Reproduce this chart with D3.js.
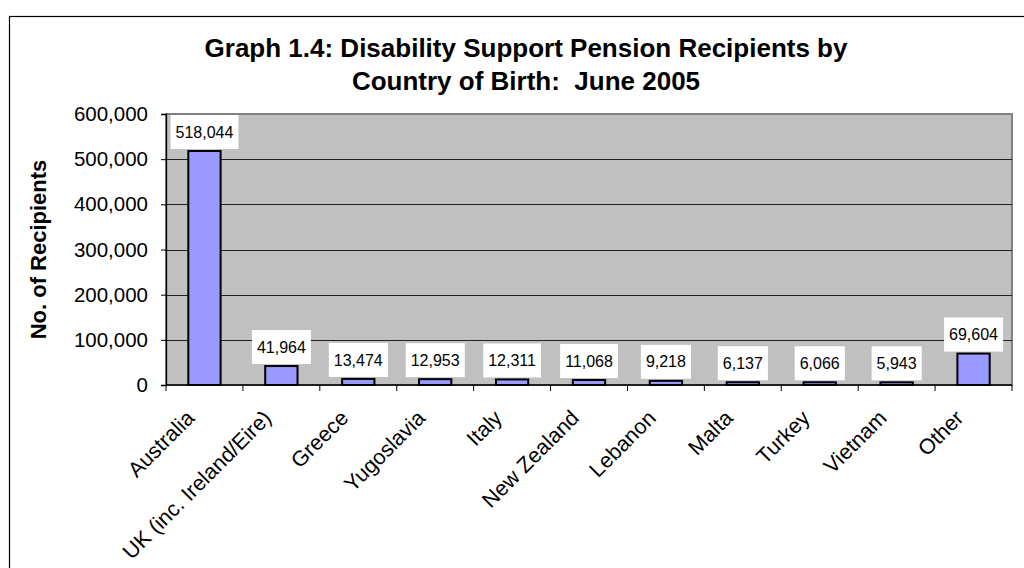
<!DOCTYPE html>
<html>
<head>
<meta charset="utf-8">
<script src="https://cdn.jsdelivr.net/npm/d3@7"></script>
<style>
  body { margin: 0; background: #fff; }
  text { font-family: "Liberation Sans", Arial, sans-serif; }
</style>
</head>
<body>
<svg id="chart"></svg>
<script>
var countries = ["Australia", "UK (inc. Ireland/Eire)", "Greece", "Yugoslavia", "Italy",
                 "New Zealand", "Lebanon", "Malta", "Turkey", "Vietnam", "Other"];
var recipients = [518044, 41964, 13474, 12953, 12311, 11068, 9218, 6137, 6066, 5943, 69604];
var yTicks = [0, 100000, 200000, 300000, 400000, 500000, 600000];
var titleLines = ["Graph 1.4: Disability Support Pension Recipients by", "Country of Birth:  June 2005"];

var data = countries.map(function(c, i){ return {name: c, value: recipients[i]}; });

var width = 1024, height = 568;
var svg = d3.select("#chart")
            .attr("width", width)
            .attr("height", height);

var margins = {top: 114, bottom: 183, left: 166, right: 12};

// outer chart border (runs off the picture on right/bottom)
svg.append("rect")
   .attr("x", 9.5).attr("y", 16.5)
   .attr("width", 1100).attr("height", 700)
   .attr("fill", "none")
   .attr("stroke", "#000")
   .attr("stroke-width", 1.2);

var xScale = d3.scaleBand()
               .domain(countries)
               .range([margins.left, width - margins.right])
               .paddingInner(0.58)
               .paddingOuter(0.29);

var yScale = d3.scaleLinear()
               .domain([0, 600000])
               .range([height - margins.bottom, margins.top]);

var x0 = margins.left, x1 = width - margins.right;
var y0 = yScale(0), y1 = yScale(600000);

// plot area
svg.append("rect")
   .attr("x", x0).attr("y", y1)
   .attr("width", x1 - x0).attr("height", y0 - y1)
   .attr("fill", "#C0C0C0")
   .attr("stroke", "#808080")
   .attr("stroke-width", 2);

// gridlines
svg.append("g")
   .selectAll("line")
   .data(yTicks.filter(function(d){ return d > 0 && d < 600000; }))
   .enter()
   .append("line")
   .attr("x1", x0).attr("x2", x1)
   .attr("y1", function(d){ return Math.round(yScale(d)) + 0.5; })
   .attr("y2", function(d){ return Math.round(yScale(d)) + 0.5; })
   .attr("stroke", "#222")
   .attr("stroke-width", 1);

// y axis
var yAxis = d3.axisLeft(yScale)
              .tickValues(yTicks)
              .tickSize(5)
              .tickPadding(13)
              .tickFormat(d3.format(","));
var gy = svg.append("g")
            .attr("transform", "translate(" + x0 + ",0)")
            .call(yAxis);
gy.select(".domain").attr("stroke", "#000").attr("stroke-width", 1.3);
gy.selectAll(".tick line").attr("stroke", "#000");
gy.selectAll("text")
  .style("font-size", "20.5px")
  .attr("fill", "#000");

// x axis: ticks at category boundaries
var boundaries = d3.range(countries.length + 1).map(function(i){ return x0 + i * (x1 - x0) / countries.length; });
svg.append("line")
   .attr("x1", x0).attr("x2", x1)
   .attr("y1", y0).attr("y2", y0)
   .attr("stroke", "#000").attr("stroke-width", 1.3);
svg.append("g")
   .selectAll("line")
   .data(boundaries)
   .enter()
   .append("line")
   .attr("x1", function(d){ return d; })
   .attr("x2", function(d){ return d; })
   .attr("y1", y0).attr("y2", y0 + 6)
   .attr("stroke", "#000");

svg.append("g")
   .selectAll("text")
   .data(countries)
   .enter()
   .append("text")
   .attr("transform", function(d){
      var cx = xScale(d) + xScale.bandwidth() / 2;
      return "translate(" + (cx - 14) + "," + (y0 + 29) + ") rotate(-45)";
   })
   .attr("text-anchor", "end")
   .attr("dy", "0.35em")
   .style("font-size", "21.5px")
   .text(function(d){ return d; });

// bars
svg.append("g")
   .selectAll("rect")
   .data(data)
   .enter()
   .append("rect")
   .attr("x", function(d){ return xScale(d.name); })
   .attr("y", function(d){ return yScale(d.value); })
   .attr("width", xScale.bandwidth())
   .attr("height", function(d){ return y0 - yScale(d.value); })
   .attr("fill", "#9999FF")
   .attr("stroke", "#000")
   .attr("stroke-width", 2);

// data labels with white boxes
var fmt = d3.format(",");
var labels = svg.append("g")
                .selectAll("g")
                .data(data)
                .enter()
                .append("g");
labels.append("text")
      .attr("x", function(d){ return xScale(d.name) + xScale.bandwidth() / 2; })
      .attr("y", function(d){ return yScale(d.value) - 19; })
      .attr("text-anchor", "middle")
      .attr("dy", "0.35em")
      .style("font-size", "16px")
      .text(function(d){ return fmt(d.value); });
labels.insert("rect", "text")
      .each(function(d){
         var bb = this.parentNode.querySelector("text").getBBox();
         d3.select(this)
           .attr("x", bb.x - 5)
           .attr("y", yScale(d.value) - 36)
           .attr("width", bb.width + 10)
           .attr("height", 34)
           .attr("fill", "#fff");
      });

// title
svg.append("text")
   .attr("x", 526)
   .attr("y", 57)
   .attr("text-anchor", "middle")
   .style("font-size", "26px")
   .style("font-weight", "bold")
   .style("white-space", "pre")
   .selectAll("tspan")
   .data(titleLines)
   .enter()
   .append("tspan")
   .attr("x", 526)
   .attr("dy", function(d, i){ return i === 0 ? 0 : 33; })
   .text(function(d){ return d; });

// y axis title
svg.append("text")
   .attr("transform", "translate(46," + ((y0 + y1) / 2) + ") rotate(-90)")
   .attr("text-anchor", "middle")
   .style("font-size", "22px")
   .style("font-weight", "bold")
   .text("No. of Recipients");
</script>
</body>
</html>
